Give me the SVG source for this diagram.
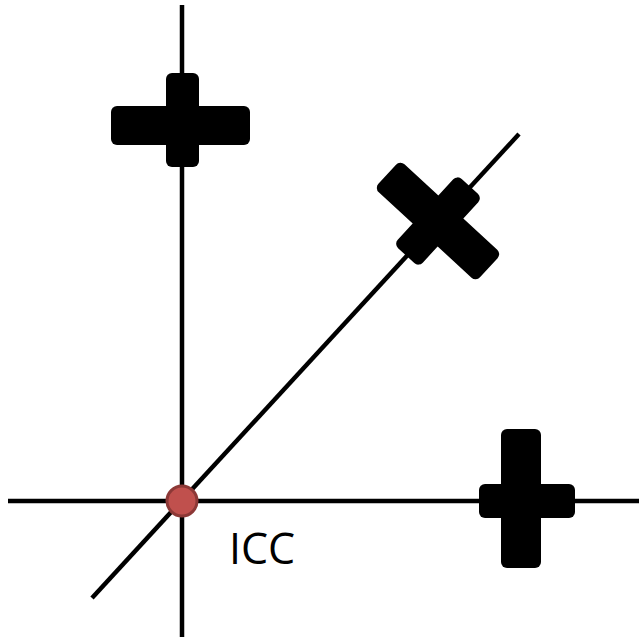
<svg xmlns="http://www.w3.org/2000/svg" width="639" height="639" viewBox="0 0 639 639">
<style>
.ax{stroke:#000;stroke-width:4.5;fill:none}
.bar{fill:#000}
.lbl{font-family:"Open Sans","Liberation Sans",sans-serif;font-size:43px;fill:#000}
</style>
<rect width="639" height="639" fill="#fff"/>
<g id="connectors">
<line class="ax" x1="182" y1="5" x2="182" y2="637"/>
<line class="ax" x1="8" y1="501" x2="639" y2="501"/>
<line class="ax" x1="92" y1="598" x2="519" y2="134"/>
</g>
<g id="cross-top">
<rect class="bar" x="111" y="106" width="139" height="39" rx="6"/>
<rect class="bar" x="166" y="73" width="33" height="94" rx="6"/>
</g>
<g id="cross-diag" transform="translate(438,221) rotate(42.6)">
<rect class="bar" x="-69" y="-19" width="138" height="38" rx="6"/>
<rect class="bar" x="-17" y="-47" width="34" height="94" rx="6"/>
</g>
<g id="cross-right">
<rect class="bar" x="501" y="429" width="40" height="139" rx="6"/>
<rect class="bar" x="479" y="484" width="96" height="34" rx="6"/>
</g>
<g id="icc">
<circle cx="182" cy="501" r="15" fill="#C0504D" stroke="#8C3836" stroke-width="3"/>
<text class="lbl" x="229" y="564">ICC</text>
</g>
</svg>
